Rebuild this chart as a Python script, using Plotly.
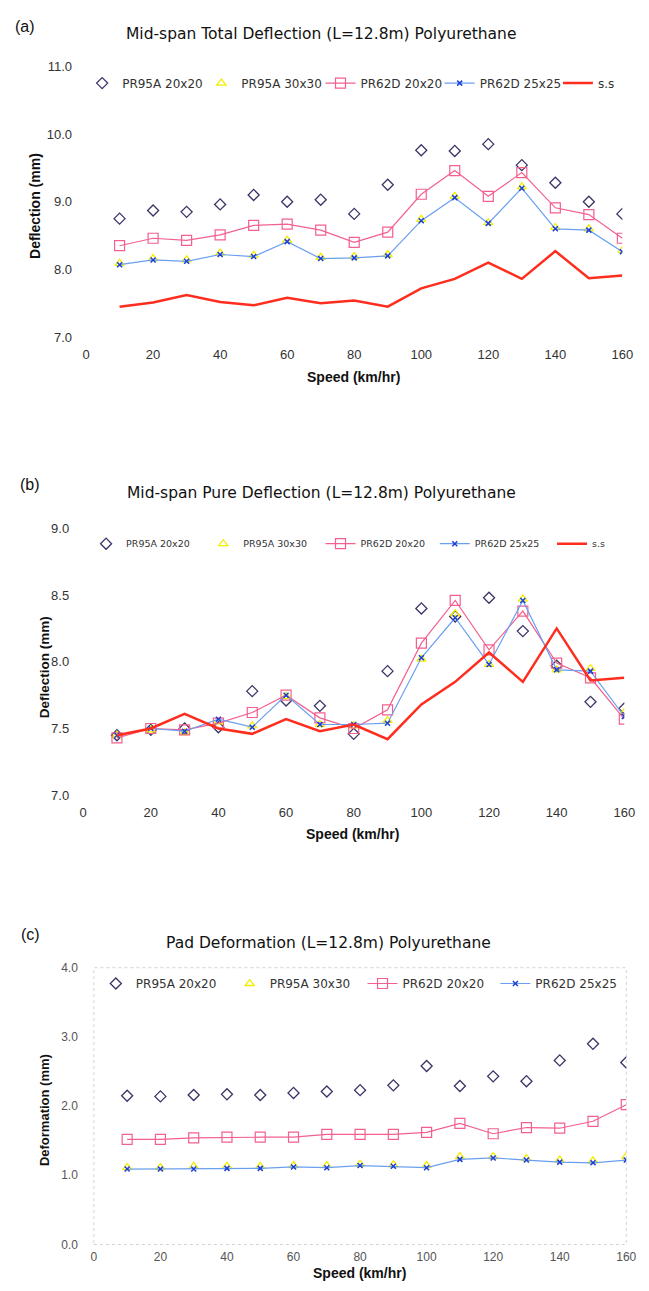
import plotly.graph_objects as go

W, H = 649, 1291

speed = [10, 20, 30, 40, 50, 60, 70, 80, 90, 100, 110, 120, 130, 140, 150, 160]
x_ticks = [0, 20, 40, 60, 80, 100, 120, 140, 160]

names = ["PR95A 20x20", "PR95A 30x30", "PR62D 20x20", "PR62D 25x25", "s.s"]

# (a) Mid-span total deflection (mm)
a_pr95a_20 = [8.75, 8.87, 8.85, 8.96, 9.10, 9.00, 9.03, 8.82, 9.25, 9.76, 9.75, 9.85, 9.54, 9.28, 9.00, 8.82]
a_pr95a_30 = [8.09, 8.16, 8.14, 8.24, 8.21, 8.43, 8.18, 8.19, 8.22, 8.74, 9.08, 8.69, 9.22, 8.62, 8.60, 8.28]
a_pr62d_20 = [8.35, 8.46, 8.43, 8.51, 8.65, 8.67, 8.58, 8.40, 8.55, 9.11, 9.46, 9.08, 9.43, 8.91, 8.81, 8.46]
a_pr62d_25 = [8.07, 8.14, 8.12, 8.22, 8.19, 8.41, 8.16, 8.17, 8.20, 8.72, 9.06, 8.68, 9.20, 8.60, 8.58, 8.26]
a_ss = [7.45, 7.51, 7.62, 7.52, 7.47, 7.58, 7.50, 7.54, 7.45, 7.72, 7.86, 8.10, 7.86, 8.27, 7.87, 7.91]

# (b) Mid-span pure deflection (mm)
b_pr95a_20 = [7.45, 7.49, 7.50, 7.51, 7.78, 7.71, 7.67, 7.46, 7.93, 8.40, 8.34, 8.48, 8.23, 7.97, 7.70, 7.65]
b_pr95a_30 = [7.45, 7.49, 7.47, 7.55, 7.52, 7.74, 7.53, 7.52, 7.56, 8.02, 8.36, 7.98, 8.47, 7.94, 7.95, 7.62]
b_pr62d_20 = [7.43, 7.50, 7.49, 7.54, 7.62, 7.75, 7.58, 7.50, 7.64, 8.14, 8.46, 8.09, 8.38, 7.99, 7.88, 7.57]
b_pr62d_25 = [7.45, 7.50, 7.48, 7.57, 7.51, 7.75, 7.53, 7.53, 7.54, 8.03, 8.33, 7.98, 8.46, 7.94, 7.93, 7.59]
b_ss = [7.45, 7.50, 7.61, 7.50, 7.46, 7.57, 7.48, 7.53, 7.42, 7.68, 7.85, 8.07, 7.85, 8.25, 7.86, 7.88]

# (c) Pad deformation (mm)
c_pr95a_20 = [2.15, 2.14, 2.16, 2.17, 2.16, 2.19, 2.21, 2.23, 2.30, 2.58, 2.29, 2.43, 2.36, 2.66, 2.90, 2.63]
c_pr95a_30 = [1.11, 1.11, 1.13, 1.13, 1.13, 1.14, 1.14, 1.16, 1.15, 1.14, 1.27, 1.27, 1.24, 1.22, 1.21, 1.27]
c_pr62d_20 = [1.52, 1.52, 1.54, 1.55, 1.55, 1.55, 1.59, 1.59, 1.59, 1.62, 1.75, 1.60, 1.69, 1.68, 1.78, 2.02]
c_pr62d_25 = [1.09, 1.09, 1.09, 1.10, 1.10, 1.12, 1.11, 1.14, 1.13, 1.11, 1.23, 1.25, 1.22, 1.19, 1.18, 1.22]

FONT = "Liberation Sans, Arial, sans-serif"
FONT_W = "DejaVu Sans, Verdana, sans-serif"
C_DIA = "#3d3468"
C_TRI = "#f2ee00"
C_PINK = "#f2608e"
C_BLUE_L = "#6a9ff0"
C_BLUE_M = "#1d3fd6"
C_RED = "#ff2d1e"


def py(px):
    return 1 - px / H


def px_(x):
    return x / W


fig = go.Figure()

legend_cfg = {}
leg_counter = [0]


def new_legend(x_px, y_px, size):
    leg_counter[0] += 1
    n = leg_counter[0]
    key = "legend" if n == 1 else f"legend{n}"
    legend_cfg[key] = dict(orientation="h", x=px_(x_px), xanchor="left", y=py(y_px), yanchor="middle",
                           font=dict(family=FONT_W, size=size, color="#333333"), bgcolor="rgba(0,0,0,0)",
                           borderwidth=0, itemclick=False, itemdoubleclick=False)
    return key


def add_panel(idx, d20, d30, p20, p25, ss, leg_x, leg_y, leg_size):
    xa = "x" if idx == 1 else f"x{idx}"
    ya = "y" if idx == 1 else f"y{idx}"
    common = dict(x=speed, xaxis=xa, yaxis=ya, hoverinfo="skip")
    fig.add_trace(go.Scatter(y=d20, name=names[0], mode="markers", legend=new_legend(leg_x[0], leg_y, leg_size),
                             marker=dict(symbol="diamond-open", size=8.5, color=C_DIA, line=dict(width=1.3)),
                             **common))
    fig.add_trace(go.Scatter(y=d30, name=names[1], mode="markers", legend=new_legend(leg_x[1], leg_y, leg_size),
                             marker=dict(symbol="triangle-up-open", size=8, color=C_TRI, line=dict(width=1.3)),
                             **common))
    fig.add_trace(go.Scatter(y=p20, name=names[2], mode="lines+markers", legend=new_legend(leg_x[2], leg_y, leg_size),
                             line=dict(color=C_PINK, width=1.2),
                             marker=dict(symbol="square-open", size=10, color=C_PINK, line=dict(width=1.2)),
                             **common))
    fig.add_trace(go.Scatter(y=p25, name=names[3], mode="lines+markers", legend=new_legend(leg_x[3], leg_y, leg_size),
                             line=dict(color=C_BLUE_L, width=1.2),
                             marker=dict(symbol="x-thin-open", size=5, color=C_BLUE_M, line=dict(width=1.5, color=C_BLUE_M)),
                             **common))
    if ss is not None:
        fig.add_trace(go.Scatter(y=ss, name=names[4], mode="lines", legend=new_legend(leg_x[4], leg_y, leg_size),
                                 line=dict(color=C_RED, width=2.5),
                                 **common))


add_panel(1, a_pr95a_20, a_pr95a_30, a_pr62d_20, a_pr62d_25, a_ss, [80, 202, 324, 446, 567], 77, 12)
add_panel(2, b_pr95a_20, b_pr95a_30, b_pr62d_20, b_pr62d_25, b_ss, [84, 204, 324, 441, 561], 543, 9.5)
add_panel(3, c_pr95a_20, c_pr95a_30, c_pr62d_20, c_pr62d_25, None, [94, 231, 367, 503], 988, 12)

tickfont = dict(family=FONT, size=13, color="#333333")
tickfont_c = dict(family=FONT, size=12, color="#555555")


def xaxis(dom, tf=tickfont, standoff=8):
    return dict(domain=dom, range=[0, 160], tickvals=x_ticks, showgrid=False, zeroline=False,
                showline=False, ticks="", tickfont=tf, ticklabelstandoff=standoff, fixedrange=True)


def yaxis(dom, rng, tv, tt, tf=tickfont, standoff=13):
    return dict(domain=dom, range=rng, tickvals=tv, ticktext=tt, showgrid=False, zeroline=False,
                showline=False, ticks="", tickfont=tf, ticklabelstandoff=standoff, fixedrange=True)


a_yt = [7.0, 8.0, 9.0, 10.0, 11.0]
b_yt = [7.0, 7.5, 8.0, 8.5, 9.0]
c_yt = [0.0, 1.0, 2.0, 3.0, 4.0]

fig.update_layout(
    width=W, height=H, margin=dict(l=0, r=0, t=0, b=0),
    paper_bgcolor="white", plot_bgcolor="white",
    font=dict(family=FONT, color="#222222"),
    xaxis=xaxis([px_(84), px_(633)]),
    yaxis=yaxis([py(334), py(60)], [7.0, 11.0], a_yt, [f"{v:.1f}" for v in a_yt]),
    xaxis2=dict(xaxis([px_(81), px_(635)]), anchor="y2"),
    yaxis2=dict(yaxis([py(797.5), py(527.5)], [7.0, 9.0], b_yt, [f"{v:.1f}" for v in b_yt]), anchor="x2"),
    xaxis3=dict(xaxis([px_(92), px_(637)], tickfont_c, 4), anchor="y3"),
    yaxis3=dict(yaxis([py(1252), py(972)], [0.0, 4.0], c_yt, [f"{v:.1f}" for v in c_yt], tickfont_c, 15), anchor="x3"),
    showlegend=True,
    **legend_cfg,
)

# faint dotted frame of panel (c)
fig.add_shape(type="rect", xref="x3 domain", yref="y3 domain", x0=0, x1=1, y0=0, y1=1,
              line=dict(color="#d2d2d2", width=1, dash="dot"), layer="below")

ann = []


def text(x, y, s, size, bold=False, angle=0, color="#111111", family=FONT):
    ann.append(dict(x=px_(x), y=py(y), xref="paper", yref="paper", text=(f"<b>{s}</b>" if bold else s),
                    showarrow=False, xanchor="center", yanchor="middle", textangle=angle,
                    font=dict(family=family, size=size, color=color)))


# panel labels
text(22, 20, "(a)", 16)
text(27, 483, "(b)", 16)
text(27, 938, "(c)", 16)
# titles
text(324, 27, "Mid-span Total Deflection (L=12.8m) Polyurethane", 15.5, family=FONT_W)
text(325, 492, "Mid-span Pure Deflection (L=12.8m) Polyurethane", 15.5, family=FONT_W)
text(332, 947, "Pad Deformation (L=12.8m) Polyurethane", 15.5, family=FONT_W)
# axis titles
text(358, 374, "Speed (km/hr)", 14, bold=True)
text(357, 837, "Speed (km/hr)", 14, bold=True)
text(364, 1281, "Speed (km/hr)", 14, bold=True)
text(31, 201, "Deflection (mm)", 14, bold=True, angle=-90)
text(41, 668, "Deflection (mm)", 13.5, bold=True, angle=-90)
text(41, 1116, "Deformation (mm)", 13, bold=True, angle=-90)

fig.update_layout(annotations=ann)

fig.write_html("out.html", config={"displayModeBar": False})
